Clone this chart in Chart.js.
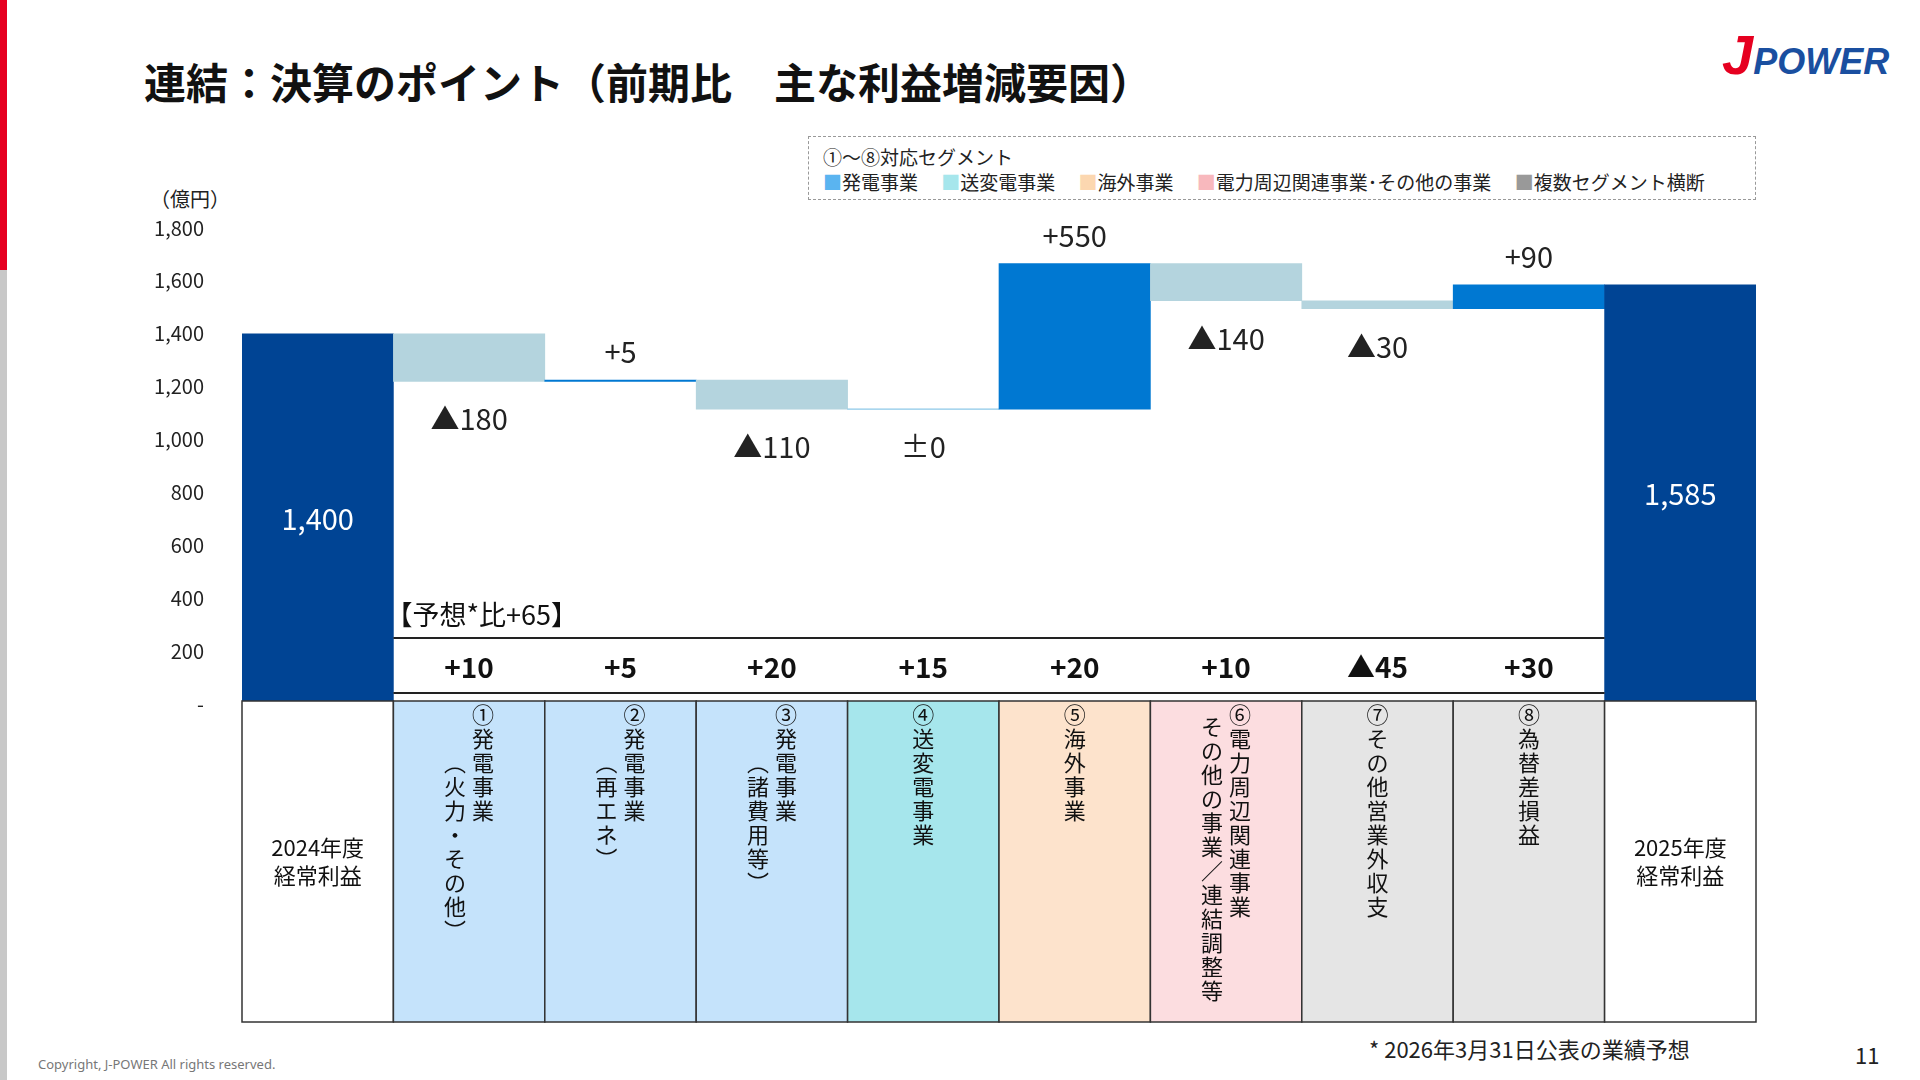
<!DOCTYPE html>
<html><head><meta charset="utf-8">
<script src="https://cdn.jsdelivr.net/npm/chart.js@4"></script>
<style>
body{margin:0;width:1920px;height:1080px;background:#fff;position:relative;overflow:hidden;font-family:"Noto Sans CJK JP","Noto Sans",sans-serif;}
#c{position:absolute;left:0;top:0;width:1920px;height:1080px;}
.abs{position:absolute;white-space:nowrap;}
</style></head><body>
<div class="abs" style="left:0;top:0;width:7px;height:270px;background:#e60020"></div>
<div class="abs" style="left:0;top:270px;width:7px;height:810px;background:#c8c8c8"></div>
<div class="abs" style="left:144px;top:50px;font-size:42px;font-weight:bold;color:#111">連結：決算のポイント（前期比　主な利益増減要因）</div>
<div class="abs" style="left:1722px;top:22px;font-size:36px;font-weight:900;font-style:italic;font-family:'Liberation Sans',sans-serif"><span style="color:#e60020;font-size:56px">J</span><span style="color:#1a4fa0">POWER</span></div>
<div class="abs" style="left:808px;top:136px;width:946px;height:62px;border:1px dashed #999;font-size:19px;color:#222">
 <div style="position:absolute;left:14px;top:6px">①～⑧対応セグメント</div>
 <div style="position:absolute;left:14px;top:31px">
  <span style="color:#5ab4f0">■</span>発電事業　 <span style="color:#a6e6ec">■</span>送変電事業　 <span style="color:#fcd7b0">■</span>海外事業　 <span style="color:#f8b8bd">■</span>電力周辺関連事業･その他の事業　 <span style="color:#999">■</span>複数セグメント横断</div>
</div>
<div class="abs" style="left:150px;top:184px;font-size:20px;color:#222">（億円）</div>
<div class="abs" style="left:1369px;top:1032px;font-size:22px;color:#222">* 2026年3月31日公表の業績予想</div>
<div class="abs" style="left:1855px;top:1038px;font-size:22px;color:#222">11</div>
<div class="abs" style="left:38px;top:1055px;font-size:13px;color:#777;font-family:'Noto Sans',sans-serif">Copyright, J-POWER All rights reserved.</div>
<canvas id="c" width="1920" height="1080"></canvas>
<script>
const categories=["2024年度\n経常利益","①","②","③","④","⑤","⑥","⑦","⑧","2025年度\n経常利益"];
const barStart=[0,1220,1220,1115,1114,1115,1525,1495,1495,0];
const barEnd=[1400,1400,1225,1225,1116,1665,1665,1525,1585,1585];
const barKind=["total","down","up","down","zero","up","down","down","up","total"];
const changeLabels=["1,400","▲180","+5","▲110","±0","+550","▲140","▲30","+90","1,585"];
const labelPos=["inside","below","above","below","below","above","below","below","above","inside"];
const forecastDiffs=["","+10","+5","+20","+15","+20","+10","▲45","+30",""];
const forecastTitle="【予想*比+65】";
const segRight=["","①発電事業","②発電事業","③発電事業","④送変電事業","⑤海外事業","⑥電力周辺関連事業","⑦その他営業外収支","⑧為替差損益",""];
const segLeft=["","（火力・その他）","（再エネ）","（諸費用等）","","","その他の事業／連結調整等","","",""];
const cellColors=["#ffffff","#c5e3fb","#c5e3fb","#c5e3fb","#a6e6ec","#fde3cc","#fcdde0","#e5e5e5","#e5e5e5","#ffffff"];
const kindColor={total:"#004494",up:"#0078d2",down:"#b4d4de",zero:"#8cc8e8"};
const yTicks=[0,200,400,600,800,1000,1200,1400,1600,1800];

const F='"Noto Sans CJK JP","Noto Sans",sans-serif';
const vmap={"（":"︵","）":"︶","／":"／","・":"・"};
const plugin={id:"deco",afterDatasetsDraw(ch){
 const c=ch.ctx,x=ch.scales.x,y=ch.scales.y,meta=ch.getDatasetMeta(0);
 const w=meta.data[1].width;
 c.save();c.textAlign="center";c.textBaseline="middle";
 meta.data.forEach((b,i)=>{
  const top=Math.min(b.y,b.base),bot=Math.max(b.y,b.base);
  let ty,col="#222";
  if(labelPos[i]==="inside"){ty=y.getPixelForValue(barEnd[i]*0.5);col="#fff";}
  else if(labelPos[i]==="above")ty=top-28;else ty=bot+38;
  c.font="29px "+F;c.fillStyle=col;
  c.fillText(changeLabels[i],b.x,ty);
 });
 const x0=meta.data[1].x-w/2,x1=meta.data[8].x+w/2;
 const y0=y.getPixelForValue(0);
 c.strokeStyle="#222";c.lineWidth=2;
 [638,693].forEach(yy=>{c.beginPath();c.moveTo(x0,yy);c.lineTo(x1,yy);c.stroke();});
 c.textAlign="left";c.font="27px "+F;c.fillStyle="#111";
 c.fillText(forecastTitle,x0-8,615);
 c.textAlign="center";c.font="bold 28px "+F;
 forecastDiffs.forEach((t,i)=>{if(t)c.fillText(t,meta.data[i].x,667);});
 const tTop=y0-3,tBot=1022;
 meta.data.forEach((b,i)=>{
  const l=b.x-w/2;
  c.fillStyle=cellColors[i];c.fillRect(l,tTop,w,tBot-tTop);
  c.strokeStyle="#333";c.lineWidth=1.5;c.strokeRect(l,tTop,w,tBot-tTop);
  c.fillStyle="#111";c.font="22px "+F;c.textAlign="center";c.textBaseline="middle";
  if(!segRight[i]){
   const lines=categories[i].split("\n");
   lines.forEach((s,k)=>c.fillText(s,b.x,848+k*28));
   return;
  }
  const hasL=!!segLeft[i];
  const xr=hasL?b.x+14:b.x, xl=b.x-14;
  [...segRight[i]].forEach((ch2,k)=>c.fillText(vmap[ch2]||ch2,xr,tTop+14+k*24));
  if(hasL)[...segLeft[i]].forEach((ch2,k)=>c.fillText(vmap[ch2]||ch2,xl,tTop+(i===6?26:62)+k*24));
 });
 c.restore();
}};
new Chart(document.getElementById("c"),{
 type:"bar",
 data:{labels:categories,datasets:[{data:barStart.map((s,i)=>[s,barEnd[i]]),
  backgroundColor:barKind.map(k=>kindColor[k]),barPercentage:1,categoryPercentage:1,borderWidth:0}]},
 options:{responsive:false,animation:false,
  layout:{padding:{left:0,right:164,top:228,bottom:376}},
  plugins:{legend:{display:false},tooltip:{enabled:false}},
  scales:{
   x:{display:false},
   y:{min:0,max:1800,afterFit:s=>{s.width=242;},
    afterBuildTicks:s=>{s.ticks=yTicks.map(v=>({value:v}));},
    grid:{display:false},border:{display:false},
    ticks:{padding:30,color:"#222",font:{size:20,family:F},callback:v=>v===0?"-":v.toLocaleString("en-US")}}
  }},
 plugins:[plugin]});
</script>
</body></html>
